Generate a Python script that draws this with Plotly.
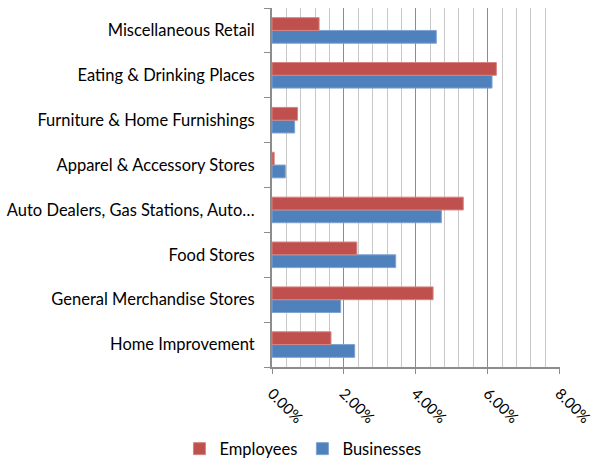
import plotly.graph_objects as go

categories = [
    "Home Improvement",
    "General Merchandise Stores",
    "Food Stores",
    "Auto Dealers, Gas Stations, Auto…",
    "Apparel & Accessory Stores",
    "Furniture & Home Furnishings",
    "Eating & Drinking Places",
    "Miscellaneous Retail",
]
employees = [0.0164, 0.0448, 0.0236, 0.0532, 0.0006, 0.0071, 0.0624, 0.0131]
businesses = [0.0230, 0.0191, 0.0344, 0.0471, 0.0037, 0.0063, 0.0612, 0.0457]
x_ticks = [0.0, 0.02, 0.04, 0.06, 0.08]
x_tick_labels = ["0.00%", "2.00%", "4.00%", "6.00%", "8.00%"]

FONT = "Lato"

fig = go.Figure()
fig.add_trace(go.Bar(
    y=categories, x=businesses, orientation="h", name="Businesses",
    marker=dict(color="#4F81BD", line=dict(color="#7FA3D1", width=1)),
    legendrank=2,
))
fig.add_trace(go.Bar(
    y=categories, x=employees, orientation="h", name="Employees",
    marker=dict(color="#C0504D", line=dict(color="#D48583", width=1)),
    legendrank=1,
))

fig.update_layout(
    width=594, height=459,
    margin=dict(l=272, r=34, t=8, b=92, autoexpand=False),
    paper_bgcolor="white", plot_bgcolor="white",
    barmode="group", bargap=0.43, bargroupgap=0,
    font=dict(family=FONT, size=16.5, color="#000000"),
    showlegend=True,
    legend=dict(orientation="h", x=0.51, xanchor="center", xref="container",
                y=0.022, yref="container", yanchor="middle",
                font=dict(family=FONT, size=16.5), itemwidth=30,
                traceorder="normal"),
)
fig.update_xaxes(
    range=[0, 0.0801], tickmode="array", tickvals=x_ticks, ticktext=x_tick_labels,
    tickangle=45, tickfont=dict(size=15),
    showgrid=True, gridcolor="#8C8C8C", gridwidth=1,
    minor=dict(tickmode="linear", tick0=0, dtick=0.004, showgrid=True,
               gridcolor="#C8C8C8", gridwidth=1),
    showline=True, linecolor="#8C8C8C", linewidth=2,
    ticks="outside", ticklen=5, tickcolor="#8C8C8C",
    ticklabeloverflow="allow", ticklabelstandoff=5,
    zeroline=False, fixedrange=True, automargin=False,
)
fig.update_yaxes(
    type="category", categoryorder="array", categoryarray=categories,
    showgrid=False, showline=True, linecolor="#8C8C8C", linewidth=2,
    ticks="outside", ticklen=6, tickcolor="#8C8C8C", tickson="boundaries",
    ticklabelstandoff=12, fixedrange=True, automargin=False,
)

fig.write_html("out.html")
